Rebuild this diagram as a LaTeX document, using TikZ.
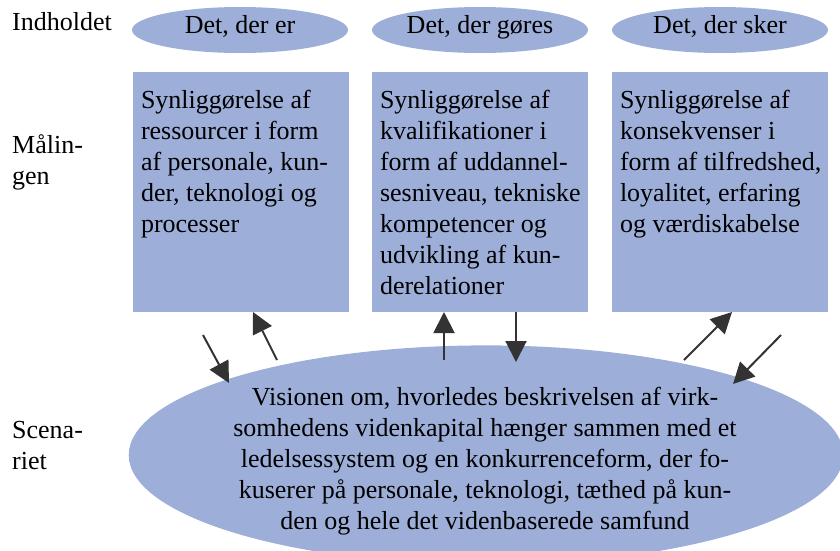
\documentclass[tikz,border=0pt]{standalone}
\usepackage{fontspec}
\setmainfont{Liberation Serif}
\usetikzlibrary{shapes.geometric,arrows.meta}
\definecolor{boxblue}{HTML}{9DAFD8}
\definecolor{arrowgray}{HTML}{333333}
\tikzset{
  lbl/.style={font=\fontsize{26pt}{31pt}\selectfont, align=left, anchor=west, inner sep=0pt},
  headoval/.style={ellipse, fill=boxblue, minimum width=216pt, minimum height=46pt, inner sep=0pt,
    text height=19pt, text depth=12pt, font=\fontsize{26pt}{31pt}\selectfont},
  infobox/.style={rectangle, fill=boxblue, minimum width=216pt, minimum height=240pt, inner sep=0pt,
    font=\fontsize{26pt}{31pt}\selectfont},
  bigoval/.style={ellipse, fill=boxblue, minimum width=708pt, minimum height=190pt, inner sep=0pt,
    font=\fontsize{26pt}{31pt}\selectfont, align=center},
  link/.style={draw=arrowgray, line width=2pt, -{Triangle[length=21pt,width=21pt]}}
}
\newcommand{\boxtext}[1]{\hspace*{5pt}\begin{minipage}[t][232pt][t]{205pt}\vspace*{14pt}\raggedright #1\end{minipage}}
\begin{document}
\begin{tikzpicture}[x=1pt,y=-1pt]
  \useasboundingbox (0,0) rectangle (840,550);

  % row labels
  \node[lbl] (rowA) at (12,22) {Indholdet};
  \node[lbl] (rowB) at (12,162) {Målin-\\gen};
  \node[lbl] (rowC) at (12,446) {Scena-\\riet};

  % column headings
  \node[headoval] (h1) at (240,30) {Det, der er};
  \node[headoval] (h2) at (480,30) {Det, der gøres};
  \node[headoval] (h3) at (720,30) {Det, der sker};

  % measurement boxes
  \node[infobox] (b1) at (241,192) {\boxtext{Synliggørelse af\\ressourcer i form\\af personale, kun-\\der, teknologi og\\processer}};
  \node[infobox] (b2) at (480,192) {\boxtext{Synliggørelse af\\kvalifikationer i\\form af uddannel-\\sesniveau, tekniske\\kompetencer og\\udvikling af kun-\\derelationer}};
  \node[infobox] (b3) at (720,192) {\boxtext{Synliggørelse af\\konsekvenser i\\form af tilfredshed,\\loyalitet, erfaring\\og værdiskabelse}};

  % scenario
  \node[bigoval] (sc) at (486,455) {\raisebox{-6pt}[\height][\depth]{\begin{tabular}{@{}c@{}}Visionen om, hvorledes beskrivelsen af virk-\\somhedens videnkapital hænger sammen med et\\ledelsessystem og en konkurrenceform, der fo-\\kuserer på personale, teknologi, tæthed på kun-\\den og hele det videnbaserede samfund\end{tabular}}\hspace*{2pt}};

  % arrow end points
  \coordinate (a1s) at (203,335);  \coordinate (a1e) at (229,383);
  \coordinate (a2s) at (277,360);  \coordinate (a2e) at (253,312);
  \coordinate (a3s) at (444,360);  \coordinate (a3e) at (444,312);
  \coordinate (a4s) at (516,312);  \coordinate (a4e) at (516,362);
  \coordinate (a5s) at (684,360);  \coordinate (a5e) at (732,312);
  \coordinate (a6s) at (781,335);  \coordinate (a6e) at (733,384);

  \draw[link] (a1s) -- (a1e);
  \draw[link] (a2s) -- (a2e);
  \draw[link] (a3s) -- (a3e);
  \draw[link] (a4s) -- (a4e);
  \draw[link] (a5s) -- (a5e);
  \draw[link] (a6s) -- (a6e);
\end{tikzpicture}
\end{document}
